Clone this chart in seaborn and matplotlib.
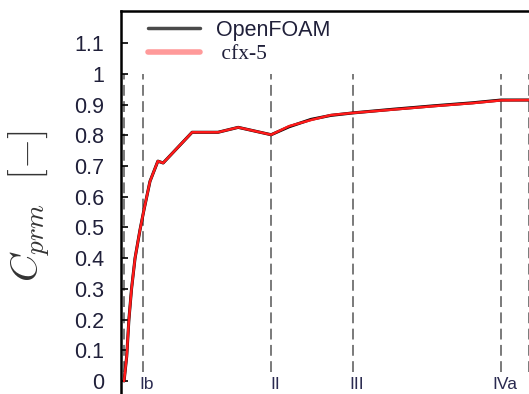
import matplotlib
matplotlib.use("Agg")
import matplotlib.pyplot as plt
import seaborn as sns
import pandas as pd
import numpy as np
from matplotlib.lines import Line2D

# ---- data ----
m_pos = [0.007, 0.013, 0.018, 0.024, 0.032, 0.043, 0.052, 0.066, 0.084, 0.096,
         0.162, 0.221, 0.267, 0.342, 0.383, 0.433, 0.478, 0.528, 0.62, 0.711,
         0.801, 0.866, 0.930]
cprm_openfoam = [0.0, 0.08, 0.2, 0.3, 0.4, 0.49, 0.555, 0.65, 0.716, 0.71,
                 0.81, 0.81, 0.826, 0.802, 0.828, 0.852, 0.865, 0.873, 0.885, 0.896,
                 0.906, 0.915, 0.915]
cprm_cfx5 = [0.0, 0.08, 0.2, 0.3, 0.4, 0.49, 0.555, 0.65, 0.716, 0.71,
             0.81, 0.81, 0.826, 0.802, 0.830, 0.850, 0.866, 0.873, 0.884, 0.895,
             0.905, 0.914, 0.915]
station_pos = [0.007, 0.050, 0.342, 0.528, 0.866, 0.930]
station_labels = ["", "Ib", "II", "III", "IVa", ""]
y_ticks = [0.0, 0.1, 0.2, 0.3, 0.4, 0.5, 0.6, 0.7, 0.8, 0.9, 1.0, 1.1]
y_tick_labels = ["0", "0.1", "0.2", "0.3", "0.4", "0.5", "0.6", "0.7", "0.8", "0.9", "1", "1.1"]
series_names = ["OpenFOAM", "cfx-5"]

sns.set_style("ticks")
plt.rcParams["font.family"] = ["Liberation Sans", "DejaVu Sans"]
plt.rcParams["mathtext.fontset"] = "cm"

W, H = 529, 394
fig = plt.figure(figsize=(W / 100, H / 100), dpi=100)
ax_left, ax_right, ax_top, ax_bot = 121, 560, 11, 400
ax = fig.add_axes([ax_left / W, (H - ax_bot) / H, (ax_right - ax_left) / W, (ax_bot - ax_top) / H])

df = pd.DataFrame({"m": m_pos * 2,
                   "cprm": cprm_openfoam + cprm_cfx5,
                   "code": [series_names[0]] * len(m_pos) + [series_names[1]] * len(m_pos)})

sns.lineplot(data=df[df.code == series_names[0]], x="m", y="cprm", color="black",
             lw=2.2, sort=False, ax=ax, legend=False)
sns.lineplot(data=df[df.code == series_names[1]], x="m", y="cprm", color="#ff1a1a",
             lw=1.8, sort=False, ax=ax, legend=False)

for xp, lab in zip(station_pos, station_labels):
    ax.vlines(xp, 0.03, 1.0, colors="#707070", linestyles=(0, (6, 3)), lw=1.3, zorder=0)
    if lab:
        ax.annotate(lab, xy=(xp, -0.013), xytext=(3, 0), textcoords="offset points",
                    ha="center", va="center", fontsize=12.5, color="#2a2a50")

ax.set_xlim(0, 1)
ax.set_ylim(-0.062, 1.205)
ax.set_yticks(y_ticks)
ax.set_yticklabels(y_tick_labels, fontsize=15.5, color="#20203a")
ax.set_xticks([])
ax.tick_params(axis="y", direction="in", length=5, width=1.2, pad=12, color="black")
for s in ["left", "top"]:
    ax.spines[s].set_linewidth(1.8)
    ax.spines[s].set_color("black")
ax.spines["right"].set_visible(False)
ax.spines["bottom"].set_visible(False)
ax.set_xlabel("")
ax.set_ylabel(r"$C_{prm}\ \ [-]$", fontsize=28, color="#333333")
ax.yaxis.set_label_coords((52 - ax_left) / (ax_right - ax_left), (ax_bot - 206) / (ax_bot - ax_top))
ax.yaxis.label.set_va("bottom")

handles = [Line2D([], [], color="#4a4a4a", lw=2.5),
           Line2D([], [], color="#ff9a9a", lw=4)]
leg = ax.legend(handles, series_names, loc="upper left", frameon=False,
                bbox_to_anchor=((135 - ax_left) / (ax_right - ax_left), 1.0 + 4 / (ax_bot - ax_top)),
                fontsize=15.5, handlelength=2.4, handletextpad=0.75,
                labelspacing=0.15, borderaxespad=0.2)
texts = leg.get_texts()
texts[1].set_fontfamily("Liberation Serif")
texts[1].set_text(" cfx-5")
for t in texts:
    t.set_color("#20203a")

fig.savefig("out.png", dpi=100)
